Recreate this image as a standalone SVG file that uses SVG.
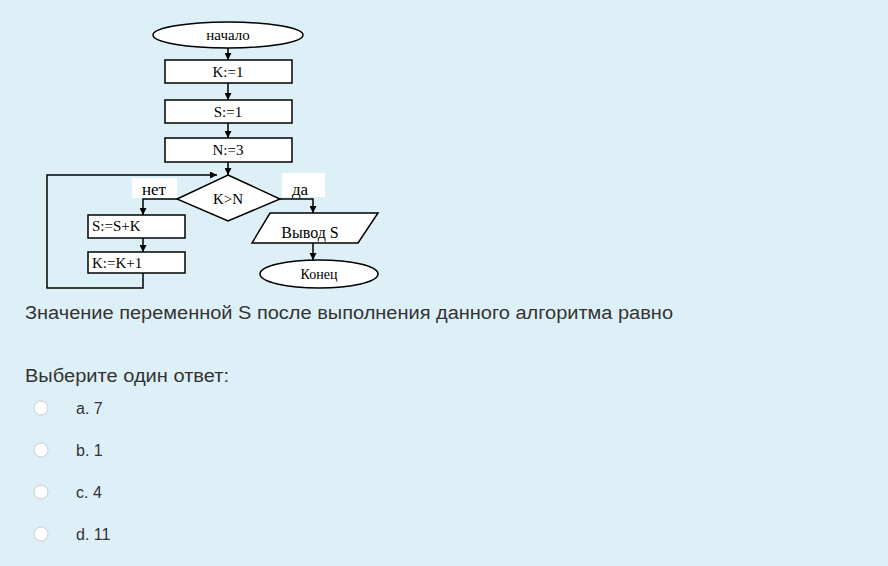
<svg xmlns="http://www.w3.org/2000/svg" width="888" height="566" viewBox="0 0 888 566">
<defs>
<marker id="ar" viewBox="0 0 10 10" refX="10" refY="5" markerWidth="7" markerHeight="7" markerUnits="userSpaceOnUse" orient="auto"><path d="M0,0L10,5L0,10z" fill="#000"/></marker>
<style>
.s{fill:#fff;stroke:#000;stroke-width:1.5}
.c{fill:none;stroke:#000;stroke-width:1.5}
.t{font-family:"Liberation Serif",serif;font-size:15px;fill:#000;text-anchor:middle}
.q{font-family:"Liberation Sans",Arial,sans-serif;font-size:18px;fill:#333}
.r{fill:#fff;stroke:#ccc;stroke-width:1}
</style>
</defs>
<rect width="888" height="566" fill="#def0f7"/>
<g id="start"><ellipse class="s" cx="228" cy="35" rx="75" ry="13"/><text class="t" x="228" y="40">начало</text></g>
<g id="k1"><rect class="s" x="165" y="60" width="127" height="23"/><text class="t" x="228" y="77">K:=1</text></g>
<g id="s1"><rect class="s" x="165" y="100" width="127" height="23"/><text class="t" x="228" y="117">S:=1</text></g>
<g id="n3"><rect class="s" x="165" y="138" width="127" height="24"/><text class="t" x="228" y="155">N:=3</text></g>
<g id="cond"><polygon class="s" points="228,175 280,199 228,221 177,199"/><text class="t" x="228" y="204">K&gt;N</text></g>
<g id="ssk"><rect class="s" x="88" y="215" width="97" height="23"/><text class="t" x="92" y="231" style="text-anchor:start">S:=S+K</text></g>
<g id="kk1"><rect class="s" x="88" y="252" width="97" height="21"/><text class="t" x="92" y="268" style="text-anchor:start">K:=K+1</text></g>
<g id="out"><polygon class="s" points="270,213 378,213 358,243 252,243"/><text class="t" x="310" y="238" style="font-size:16px">Вывод S</text></g>
<g id="end"><ellipse class="s" cx="319" cy="274" rx="59" ry="14"/><text class="t" x="319" y="279" style="font-size:14px">Конец</text></g>
<g id="connectors">
<line class="c" x1="228" y1="48" x2="228" y2="60" marker-end="url(#ar)"/>
<line class="c" x1="228" y1="83" x2="228" y2="100" marker-end="url(#ar)"/>
<line class="c" x1="228" y1="123" x2="228" y2="138" marker-end="url(#ar)"/>
<line class="c" x1="228" y1="162" x2="228" y2="175" marker-end="url(#ar)"/>
<polyline class="c" points="177,199 143,199 143,215" marker-end="url(#ar)"/>
<line class="c" x1="143" y1="238" x2="143" y2="252" marker-end="url(#ar)"/>
<polyline class="c" points="143,273 143,288 47,288 47,175 217,175" marker-end="url(#ar)"/>
<polyline class="c" points="280,199 313,199 313,213" marker-end="url(#ar)"/>
<line class="c" x1="313" y1="243" x2="313" y2="260" marker-end="url(#ar)"/>
</g>
<g id="labels">
<rect x="132" y="178" width="45" height="20" fill="#fff"/><text class="t" x="154" y="195" style="font-size:17px">нет</text>
<rect x="282" y="173" width="43" height="24" fill="#fff"/><text class="t" x="300" y="195" style="font-size:17px">да</text>
</g>
<text class="q" x="25" y="319" textLength="648" lengthAdjust="spacingAndGlyphs">Значение переменной S после выполнения данного алгоритма равно</text>
<text class="q" x="25" y="382" textLength="204" lengthAdjust="spacingAndGlyphs">Выберите один ответ:</text>
<circle class="r" cx="41" cy="408" r="7"/><text class="q" x="76" y="414" style="font-size:16px">a. 7</text>
<circle class="r" cx="41" cy="450" r="7"/><text class="q" x="76" y="456" style="font-size:16px">b. 1</text>
<circle class="r" cx="41" cy="492" r="7"/><text class="q" x="76" y="498" style="font-size:16px">c. 4</text>
<circle class="r" cx="41" cy="534" r="7"/><text class="q" x="76" y="540" style="font-size:16px">d. 11</text>
</svg>
